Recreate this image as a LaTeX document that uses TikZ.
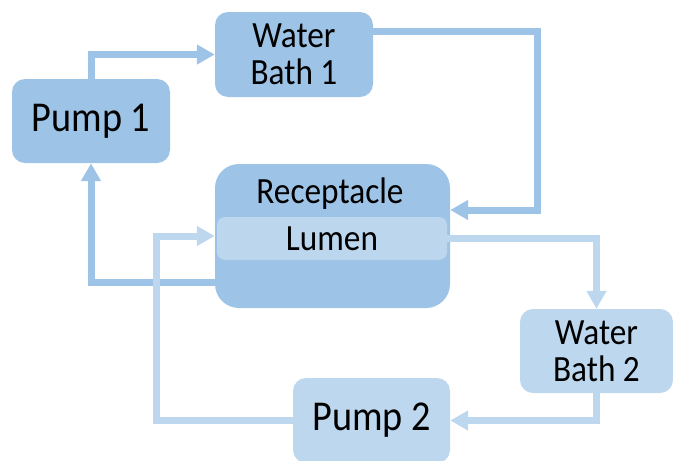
\documentclass[tikz,border=0pt]{standalone}
\usepackage{fontspec}
\setmainfont{Carlito}
\newfontfamily\tallfont[FakeStretch=0.9]{Carlito}
\usetikzlibrary{arrows.meta,calc}
\definecolor{boxdk}{HTML}{9DC3E6}
\definecolor{boxlt}{HTML}{BDD7EE}
\definecolor{bandlt}{HTML}{BCD6EE}
\begin{document}
\begin{tikzpicture}[x=1pt,y=-1pt,
  box/.style={rounded corners=13pt, inner sep=0pt, align=center, text=black},
  dkbox/.style={box, fill=boxdk},
  ltbox/.style={box, fill=boxlt},
  flow/.style={line width=7pt, line join=miter, line cap=butt, -{Triangle[length=18pt,width=19pt]}},
  dkflow/.style={flow, draw=boxdk},
  ltflow/.style={flow, draw=boxlt},
  big/.style={font=\tallfont\fontsize{42.5}{44}\selectfont},
  mid/.style={font=\tallfont\fontsize{37}{37}\selectfont}]
\useasboundingbox (0,0) rectangle (673,461);
% boxes
\node[dkbox, big, minimum width=158pt, minimum height=84pt] (pump1) at (91,121) {Pump 1};
\node[dkbox, mid, minimum width=158pt, minimum height=85pt] (wb1) at (294,54.5) {Water\\Bath 1};
\node[dkbox, rounded corners=24pt, minimum width=235pt, minimum height=144pt] (rec) at (332.5,236) {};
\node[box, fill=bandlt, rounded corners=8pt, mid, minimum width=230pt, minimum height=43pt] (lumen) at (332,238.5) {Lumen};
\node[mid, anchor=base, text=black] (rectext) at (330,203) {Receptacle};
\node[ltbox, mid, minimum width=153pt, minimum height=84pt] (wb2) at (596.5,351) {Water\\Bath 2};
\node[ltbox, big, minimum width=157pt, minimum height=85pt] (pump2) at (371.5,420.5) {Pump 2};
% helper corners
\coordinate (c1) at (537,31);
\coordinate (c2) at (156,420.5);
% connectors
\draw[dkflow] (pump1.north) |- (wb1.west);
\draw[dkflow] ([yshift=23.5pt]wb1.east) -- (c1) |- ([yshift=26pt]rec.east);
\draw[dkflow] ([yshift=-46pt]rec.west) -| (pump1.south);
\draw[ltflow] (lumen.east) -| (wb2.north);
\draw[ltflow] (wb2.south) |- (pump2.east);
\draw[ltflow] (pump2.west) -- (c2) |- (rec.west);
\end{tikzpicture}
\end{document}
